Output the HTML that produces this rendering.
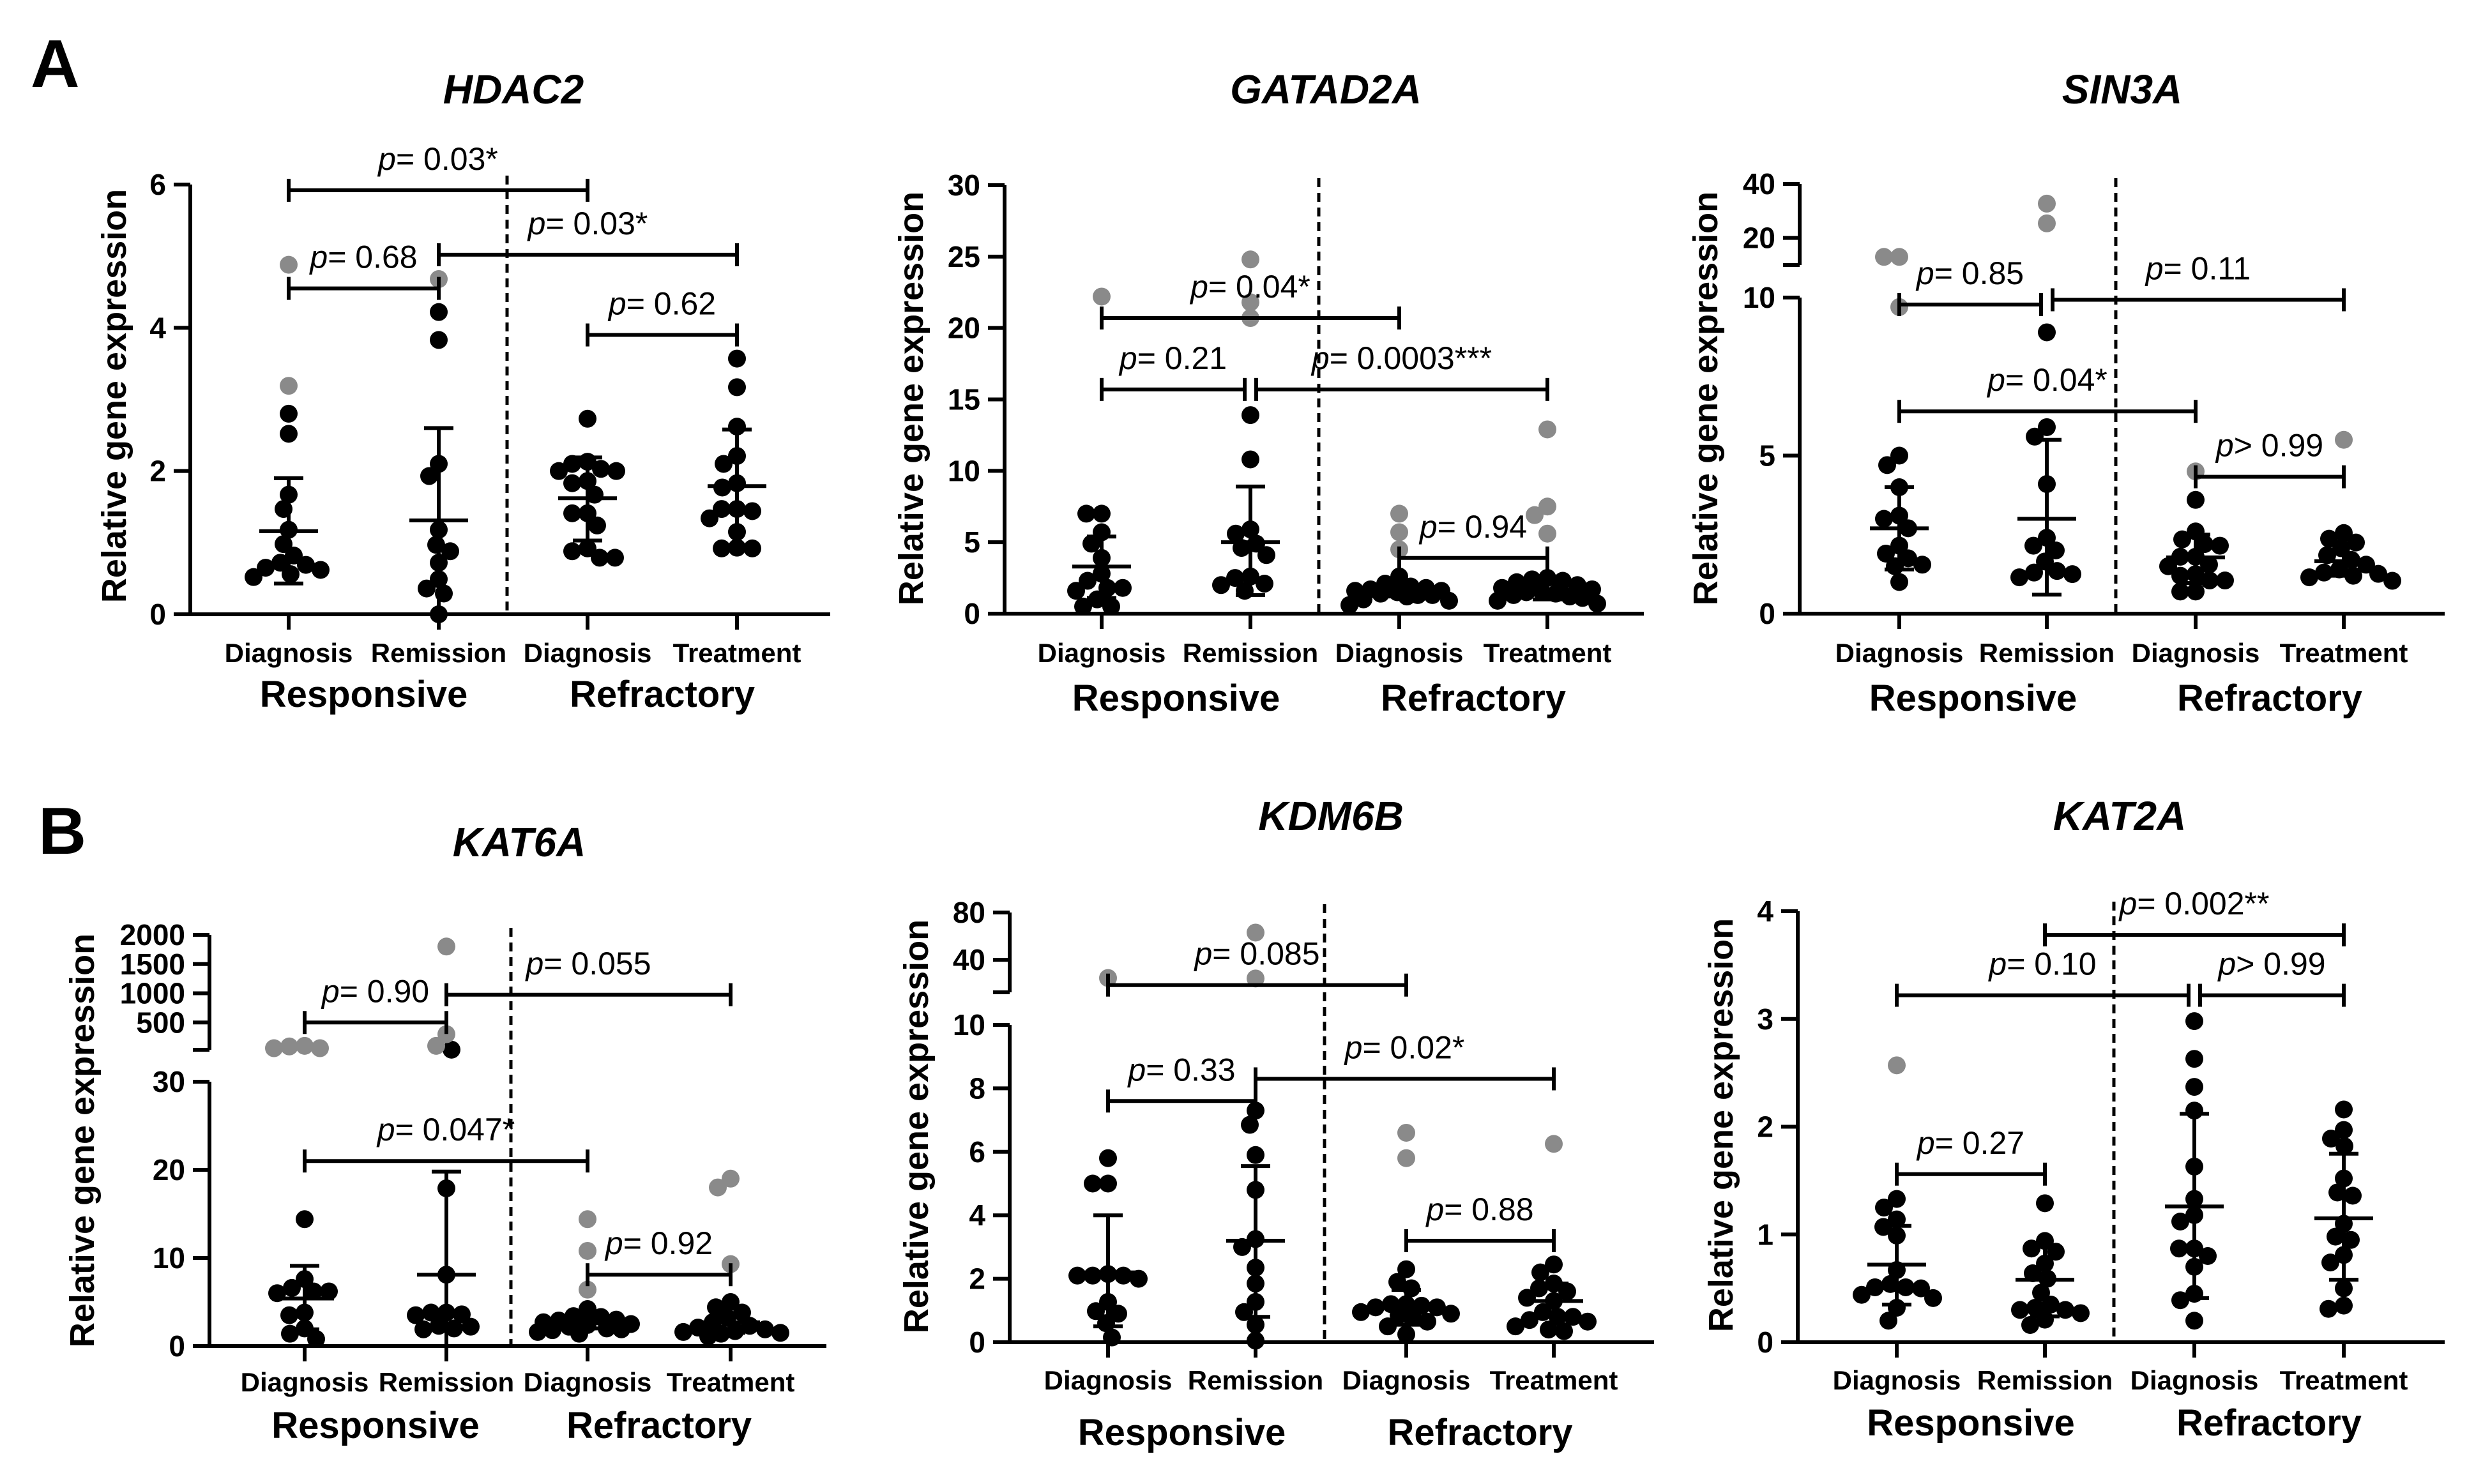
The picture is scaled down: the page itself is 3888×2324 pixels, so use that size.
<!DOCTYPE html>
<html><head><meta charset="utf-8"><style>
html,body{margin:0;padding:0;background:#fff}
svg{display:block}
text{font-family:"Liberation Sans",Arial,sans-serif}
</style></head><body>
<svg id="fig" width="3888" height="2324" viewBox="0 0 3888 2324" xmlns="http://www.w3.org/2000/svg">
<rect width="3888" height="2324" fill="#fff"/>
<text x="48" y="136" font-size="106" font-weight="bold">A</text>
<text x="60" y="1337" font-size="104" font-weight="bold">B</text>
</svg>
<script>
// ---------- shared categories ----------
const categories = ["Diagnosis","Remission","Diagnosis","Treatment"];
const groups = ["Responsive","Refractory"];

// ---------- HDAC2 ----------
const hdac2Black = [[2.8,2.52,1.67,1.47,1.18,0.98,0.82,0.72,0.69,0.65,0.62,0.52,0.56],[4.22,3.83,2.1,1.93,1.18,0.97,0.88,0.72,0.49,0.36,0.29,0.0],[2.73,2.13,2.1,2.03,2.0,2.0,1.86,1.83,1.67,1.41,1.41,1.24,0.92,0.88,0.79,0.79],[3.57,3.17,2.62,2.21,2.1,1.83,1.77,1.47,1.47,1.44,1.34,1.15,0.93,0.92,0.92]];
const hdac2Gray = [[4.88,3.19],[4.68],[],[]];
const hdac2Mean = [1.16,1.31,1.62,1.79];
const hdac2Lo = [0.43,0,1.03,0.95];
const hdac2Hi = [1.9,2.6,2.19,2.58];
const hdac2CmpFrom = [0,1,0,2];
const hdac2CmpTo = [2,3,1,3];
const hdac2CmpVal = [5.92,5.02,4.55,3.9];
const hdac2CmpText = ["p= 0.03*","p= 0.03*","p= 0.68","p= 0.62"];
const hdac2Ticks = [0,2,4,6];

// ---------- GATAD2A ----------
const gatad2aBlack = [[7.0,7.0,5.7,4.9,3.9,2.8,2.3,1.8,1.6,1.8,1.0,0.5,0.5],[13.9,10.8,5.9,5.6,4.9,4.6,4.1,2.6,2.5,2.1,2.0,1.6],[2.6,2.1,1.9,1.8,1.7,1.6,1.6,1.5,1.4,1.3,1.3,1.2,1.0,0.9,0.6],[2.5,2.4,2.3,2.2,2.0,1.8,1.7,1.6,1.5,1.4,1.3,1.2,1.1,0.9,0.7]];
const gatad2aGray = [[22.2],[24.8,21.8,20.7],[7.0,5.7,4.5],[12.9,7.5,6.9,5.6]];
const gatad2aMean = [3.3,5.0,1.6,1.6];
const gatad2aLo = [1.1,1.3,1.2,1.0];
const gatad2aHi = [5.4,8.9,2.0,2.1];
const gatad2aCmpFrom = [0,0,1,2];
const gatad2aCmpTo = [2,1,3,3];
const gatad2aCmpVal = [20.7,15.7,15.7,3.9];
const gatad2aCmpText = ["p= 0.04*","p= 0.21","p= 0.0003***","p= 0.94"];
const gatad2aTicks = [0,5,10,15,20,25,30];

// ---------- SIN3A ----------
const sin3aBlack = [[5.0,4.7,4.0,3.1,3.0,2.7,2.15,1.9,1.75,1.55,1.5,1.0],[8.9,5.9,5.6,4.1,2.4,2.15,2.0,1.65,1.35,1.3,1.25,1.15],[3.6,2.6,2.35,2.2,2.15,1.8,1.8,1.55,1.5,1.25,1.2,1.05,1.05,0.7,0.7],[2.55,2.37,2.25,2.07,1.85,1.7,1.55,1.4,1.3,1.26,1.2,1.15,1.04]];
const sin3aGray = [[13,13,9.7],[25.4,32.7],[4.5],[5.5]];
const sin3aMean = [2.7,3.0,1.78,1.66];
const sin3aLo = [1.4,0.6,0.97,1.2];
const sin3aHi = [4.0,5.5,2.5,2.2];
const sin3aCmpFrom = [0,1,0,2];
const sin3aCmpTo = [1,3,2,3];
const sin3aCmpVal = [9.78,9.93,6.4,4.33];
const sin3aCmpText = ["p= 0.85","p= 0.11","p= 0.04*","p> 0.99"];
const sin3aTicks = [0,5,10,20,40];

// ---------- KAT6A ----------
const kat6aBlack = [[14.4,7.6,6.6,6.2,6.2,6.0,3.8,3.5,2.0,1.4,0.8],[35,17.9,8.1,3.8,3.8,3.5,3.6,2.3,2.2,1.9,2.0],[4.2,3.4,3.3,3.0,2.9,2.7,2.5,2.4,2.2,2.0,1.9,1.8,1.6,1.4],[5.0,4.4,3.8,3.2,2.7,2.3,2.1,1.9,1.7,1.6,1.5,1.4,1.1]];
const kat6aGray = [[100,60,90,60],[1800,300,100],[14.4,10.8,6.4],[19.0,18.0,9.3]];
const kat6aMean = [5.4,8.1,2.6,2.7];
const kat6aLo = [1.9,0,2.0,1.5];
const kat6aHi = [9.1,19.8,3.2,4.3];
const kat6aCmpFrom = [0,1,0,2];
const kat6aCmpTo = [1,3,2,3];
const kat6aCmpVal = [500,975,21,8.1];
const kat6aCmpText = ["p= 0.90","p= 0.055","p= 0.047*","p= 0.92"];
const kat6aTicks = [0,10,20,30,500,1000,1500,2000];

// ---------- KDM6B ----------
const kdm6bBlack = [[5.8,5.0,5.0,2.1,2.1,2.15,2.1,2.0,1.27,0.98,0.9,0.6,0.15],[7.3,6.85,5.9,4.8,3.25,3.0,2.35,1.85,1.27,0.95,0.55,0.05],[2.3,1.9,1.7,1.2,1.2,1.15,1.1,1.1,0.95,0.9,0.85,0.8,0.65,0.5,0.25],[2.45,2.2,1.85,1.7,1.6,1.4,1.3,0.95,0.8,0.8,0.7,0.65,0.5,0.4,0.35]];
const kdm6bGray = [[24.6],[63,24.2],[6.6,5.8],[6.25]];
const kdm6bMean = [2.2,3.2,1.15,1.3];
const kdm6bLo = [0.5,0.8,0.55,0.85];
const kdm6bHi = [4.0,5.55,1.65,1.85];
const kdm6bCmpFrom = [0,0,1,2];
const kdm6bCmpTo = [2,1,3,3];
const kdm6bCmpVal = [18.6,7.6,8.3,3.2];
const kdm6bCmpText = ["p= 0.085","p= 0.33","p= 0.02*","p= 0.88"];
const kdm6bTicks = [0,2,4,6,8,10,40,80];

// ---------- KAT2A ----------
const kat2aBlack = [[1.33,1.25,1.14,1.07,0.99,0.67,0.54,0.51,0.51,0.5,0.44,0.41,0.32,0.2],[1.29,0.94,0.87,0.84,0.73,0.64,0.59,0.46,0.35,0.3,0.3,0.27,0.21,0.16,0.32],[2.98,2.63,2.37,2.15,1.63,1.33,1.18,1.12,0.87,0.87,0.8,0.7,0.45,0.39,0.2],[2.16,1.97,1.89,1.82,1.52,1.39,1.36,1.1,0.98,0.95,0.81,0.74,0.5,0.34,0.31]];
const kat2aGray = [[2.57],[],[],[]];
const kat2aMean = [0.72,0.58,1.26,1.15];
const kat2aLo = [0.35,0.24,0.41,0.58];
const kat2aHi = [1.08,0.9,2.12,1.75];
const kat2aCmpFrom = [1,0,2,0];
const kat2aCmpTo = [3,2,3,1];
const kat2aCmpVal = [3.78,3.22,3.22,1.56];
const kat2aCmpText = ["p= 0.002**","p= 0.10","p> 0.99","p= 0.27"];
const kat2aTicks = [0,1,2,3,4];

// ---------- layout (pixel geometry, not data) ----------
const panels = [
 {key:"hdac2",title:"HDAC2",ax:298,cx:[452,687,920,1154],dash:794,dashTop:275,xEnd:1300,
  segs:[{d:[0,6],p:[962,289]}],tx:804,ty:162,yt:[178,620],catY:1037,grpY:1107,
  black:hdac2Black,gray:hdac2Gray,mean:hdac2Mean,lo:hdac2Lo,hi:hdac2Hi,cf:hdac2CmpFrom,ct:hdac2CmpTo,cv:hdac2CmpVal,cl:hdac2CmpText,ticks:hdac2Ticks},
 {key:"gatad2a",title:"GATAD2A",ax:1573,cx:[1725,1958,2191,2423],dash:2065,dashTop:279,xEnd:2574,
  segs:[{d:[0,30],p:[961,290]}],tx:2076,ty:162,yt:[1426,624],catY:1037,grpY:1113,
  black:gatad2aBlack,gray:gatad2aGray,mean:gatad2aMean,lo:gatad2aLo,hi:gatad2aHi,cf:gatad2aCmpFrom,ct:gatad2aCmpTo,cv:gatad2aCmpVal,cl:gatad2aCmpText,ticks:gatad2aTicks},
 {key:"sin3a",title:"SIN3A",ax:2818,cx:[2974,3205,3438,3670],dash:3313,dashTop:279,xEnd:3828,
  segs:[{d:[0,10],p:[961,466]},{d:[10,40],p:[415,288]}],tx:3323,ty:162,yt:[2670,624],catY:1037,grpY:1113,
  black:sin3aBlack,gray:sin3aGray,mean:sin3aMean,lo:sin3aLo,hi:sin3aHi,cf:sin3aCmpFrom,ct:sin3aCmpTo,cv:sin3aCmpVal,cl:sin3aCmpText,ticks:sin3aTicks},
 {key:"kat6a",title:"KAT6A",ax:328,cx:[477,699,920,1144],dash:800,dashTop:1453,xEnd:1294,
  segs:[{d:[0,30],p:[2108,1694]},{d:[33,2000],p:[1644,1464]}],tx:813,ty:1341,yt:[128,1786],catY:2179,grpY:2252,
  black:kat6aBlack,gray:kat6aGray,mean:kat6aMean,lo:kat6aLo,hi:kat6aHi,cf:kat6aCmpFrom,ct:kat6aCmpTo,cv:kat6aCmpVal,cl:kat6aCmpText,ticks:kat6aTicks},
 {key:"kdm6b",title:"KDM6B",ax:1581,cx:[1735,1966,2202,2433],dash:2074,dashTop:1416,xEnd:2590,
  segs:[{d:[0,10],p:[2102,1605]},{d:[12.5,80],p:[1554,1429]}],tx:2084,ty:1300,yt:[1434,1764],catY:2176,grpY:2263,
  black:kdm6bBlack,gray:kdm6bGray,mean:kdm6bMean,lo:kdm6bLo,hi:kdm6bHi,cf:kdm6bCmpFrom,ct:kdm6bCmpTo,cv:kdm6bCmpVal,cl:kdm6bCmpText,ticks:kdm6bTicks},
 {key:"kat2a",title:"KAT2A",ax:2815,cx:[2970,3202,3436,3670],dash:3310,dashTop:1412,xEnd:3828,
  segs:[{d:[0,4],p:[2102,1427]}],tx:3319,ty:1300,yt:[2694,1762],catY:2176,grpY:2248,
  black:kat2aBlack,gray:kat2aGray,mean:kat2aMean,lo:kat2aLo,hi:kat2aHi,cf:kat2aCmpFrom,ct:kat2aCmpTo,cv:kat2aCmpVal,cl:kat2aCmpText,ticks:kat2aTicks}
];

const NS = "http://www.w3.org/2000/svg";
const svg = document.getElementById("fig");
const R = 14, LW = 6;
function mk(tag, attrs, parent){
  const e = document.createElementNS(NS, tag);
  for (const k in attrs) e.setAttribute(k, attrs[k]);
  (parent||svg).appendChild(e);
  return e;
}
function yScale(P, v){
  const segs = P.segs;
  let s = segs[0];
  if (segs.length > 1 && v > segs[0].d[1]) s = segs[1];
  const t = (v - s.d[0])/(s.d[1]-s.d[0]);
  return s.p[0] + t*(s.p[1]-s.p[0]);
}
function swarm(ys){
  const placed = [];
  const order = ys.map((y,i)=>i).sort((a,b)=>ys[a]-ys[b]);
  const out = new Array(ys.length).fill(0);
  const minD = 2*R*0.85, MAXO = 78;
  order.forEach(i=>{
    const y = ys[i];
    let best = 0, bestScore = -1, found = false;
    for (let k=0;k<=2*MAXO;k++){
      const off = (k%2===0?1:-1)*Math.ceil(k/2);
      let md = 1e9;
      for (const q of placed){
        const dx = off-q[0], dy = y-q[1];
        md = Math.min(md, Math.sqrt(dx*dx+dy*dy));
      }
      if (md >= minD){ best = off; found = true; break; }
      if (md > bestScore){ bestScore = md; best = off; }
    }
    out[i] = best; placed.push([best,y]);
  });
  return out;
}

panels.forEach(P=>{
  const g = mk("g",{});
  
  
  const y0 = P.segs[0].p[0];
  const t = mk("text",{x:P.tx,y:P.ty,"text-anchor":"middle","font-size":64,"font-weight":"bold","font-style":"italic"},g);
  t.textContent = P.title;
  
  
  const yt = mk("text",{x:0,y:0,"text-anchor":"middle","font-size":54,"font-weight":"bold",transform:`translate(${P.yt[0]+19},${P.yt[1]}) rotate(-90)`},g);
  yt.textContent = "Relative gene expression";
  
  
  const axG = mk("g",{stroke:"#000","stroke-width":LW,fill:"none"},g);
  
  
  mk("line",{x1:P.ax-26,y1:y0,x2:P.xEnd,y2:y0},axG);
  P.segs.forEach((s,si)=>{
    mk("line",{x1:P.ax,y1:s.p[0]+(si===0?3:0),x2:P.ax,y2:s.p[1]},axG);
    if (si===0 && P.segs.length>1) mk("line",{x1:P.ax-26,y1:s.p[1],x2:P.ax,y2:s.p[1]},axG);
    if (si===1) mk("line",{x1:P.ax-26,y1:s.p[0],x2:P.ax,y2:s.p[0]},axG);
  });
  P.ticks.forEach(v=>{
    const y = yScale(P,v);
    mk("line",{x1:P.ax-26,y1:y,x2:P.ax,y2:y},axG);
    const tl = mk("text",{x:P.ax-38,y:y+16,"text-anchor":"end","font-size":46,"font-weight":"bold"},g);
    tl.textContent = String(v);
    
    
  });
  P.cx.forEach((x,i)=>{
    mk("line",{x1:x,y1:y0,x2:x,y2:y0+24},axG);
    const cl = mk("text",{x:x,y:P.catY,"text-anchor":"middle","font-size":42,"font-weight":"bold"},g);
    cl.textContent = categories[i];
    
    
  });
  groups.forEach((gn,gi)=>{
    const gx = (P.cx[gi*2]+P.cx[gi*2+1])/2;
    const gl = mk("text",{x:gx,y:P.grpY,"text-anchor":"middle","font-size":58,"font-weight":"bold"},g);
    gl.textContent = gn;
    
    
  });
  const dl = mk("line",{x1:P.dash,y1:P.dashTop,x2:P.dash,y2:y0,stroke:"#000","stroke-width":5,"stroke-dasharray":"14 9"},g);
  
  
  P.cx.forEach((x,ci)=>{
    const vals = P.black[ci].concat(P.gray[ci]);
    const isGray = P.black[ci].map(()=>false).concat(P.gray[ci].map(()=>true));
    const ys = vals.map(v=>yScale(P,v));
    const offs = swarm(ys);
    vals.forEach((v,i)=>{
      const c = mk("circle",{cx:x+offs[i],cy:ys[i],r:R,fill:isGray[i]?"#8a8a8a":"#000"},g);
      
      
    });
    const eb = mk("g",{stroke:"#000","stroke-width":LW},g);
    
    
    const yh = yScale(P,P.hi[ci]), yl = yScale(P,P.lo[ci]), ym = yScale(P,P.mean[ci]);
    mk("line",{x1:x,y1:yh,x2:x,y2:yl},eb);
    mk("line",{x1:x-23,y1:yh,x2:x+23,y2:yh},eb);
    mk("line",{x1:x-23,y1:yl,x2:x+23,y2:yl},eb);
    mk("line",{x1:x-46,y1:ym,x2:x+46,y2:ym},eb);
  });
  P.cf.forEach((a,i)=>{
    const b = P.ct[i];
    let xa = P.cx[a], xb = P.cx[b];
    const y = yScale(P,P.cv[i]);
    P.cf.forEach((a2,j)=>{
      if (j===i) return;
      if (Math.abs(yScale(P,P.cv[j])-y) < 20){
        if (P.ct[j]===a) xa += 9;
        if (a2===b) xb -= 9;
      }
    });
    const cg = mk("g",{stroke:"#000","stroke-width":LW},g);
    
    
    mk("line",{x1:xa,y1:y,x2:xb,y2:y},cg);
    mk("line",{x1:xa,y1:y-18,x2:xa,y2:y+18},cg);
    mk("line",{x1:xb,y1:y-18,x2:xb,y2:y+18},cg);
    const txt = mk("text",{x:(xa+xb)/2,y:y-32,"text-anchor":"middle","font-size":50},g);
    
    
    const s1 = mk("tspan",{"font-style":"italic"},txt); s1.textContent = P.cl[i].charAt(0);
    const s2 = mk("tspan",{},txt); s2.textContent = P.cl[i].slice(1);
  });
});
</script>
</body></html>
